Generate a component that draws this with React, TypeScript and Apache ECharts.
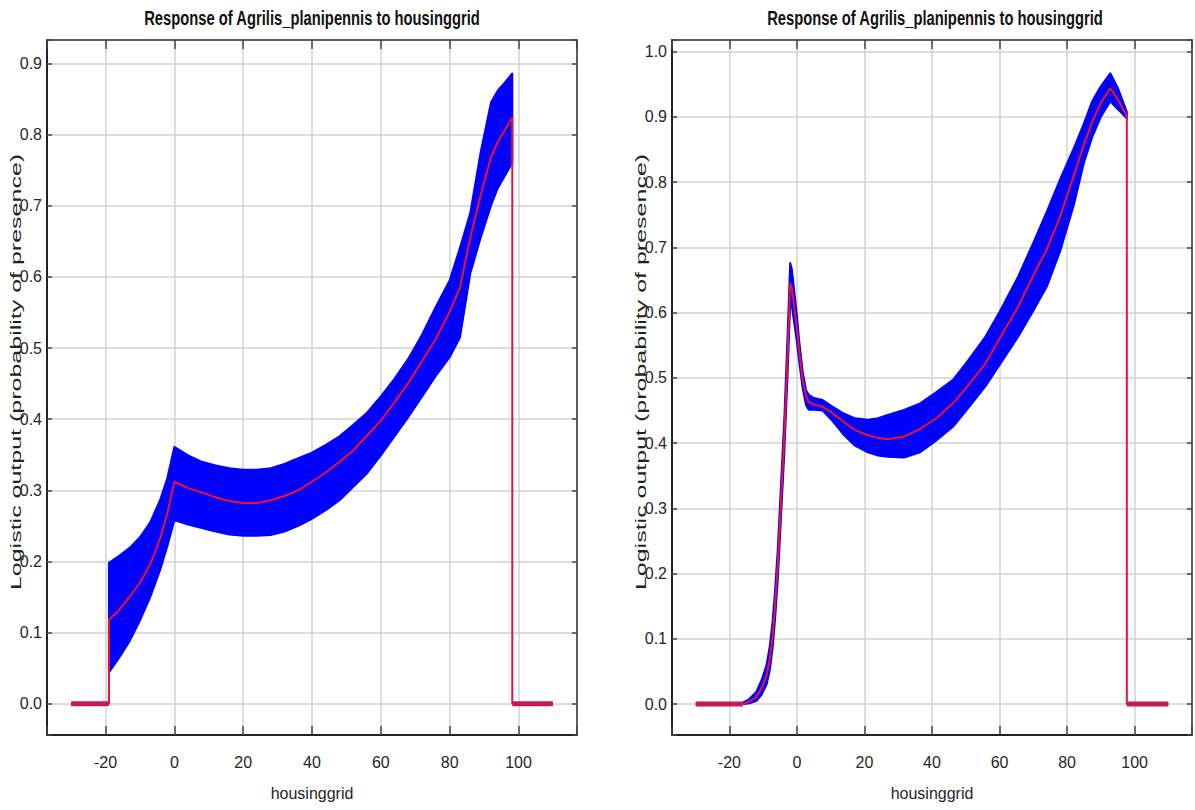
import React, { useEffect, useRef } from 'react';
import * as echarts from 'echarts';

const TITLE = 'Response of Agrilis_planipennis to housinggrid';
const X_NAME = 'housinggrid';
const Y_NAME = 'Logistic output (probability of presence)';

// ---- Left panel ----
const leftFlatStart = [-30, -19];
const leftFlatEnd = [98.2, 110];
const leftX = [-19, -16, -13, -10, -7, -4, -2, 0, 4, 8, 12, 16, 20, 24, 28, 32, 36, 40, 44, 48, 52, 56, 60, 64, 68, 72, 76, 80, 83, 86, 89, 92, 94, 96, 98.2];
const leftMean = [0.118, 0.132, 0.15, 0.17, 0.196, 0.234, 0.268, 0.312, 0.303, 0.297, 0.29, 0.285, 0.282, 0.282, 0.286, 0.292, 0.3, 0.312, 0.325, 0.34, 0.356, 0.377, 0.398, 0.424, 0.451, 0.482, 0.513, 0.551, 0.585, 0.655, 0.715, 0.768, 0.79, 0.806, 0.824];
const leftUpper = [0.198, 0.208, 0.219, 0.234, 0.255, 0.288, 0.318, 0.361, 0.349, 0.34, 0.335, 0.331, 0.329, 0.329, 0.331, 0.337, 0.345, 0.353, 0.364, 0.376, 0.392, 0.409, 0.432, 0.457, 0.485, 0.519, 0.558, 0.595, 0.641, 0.69, 0.775, 0.845, 0.862, 0.873, 0.886];
const leftLower = [0.044, 0.065, 0.088, 0.117, 0.15, 0.19, 0.222, 0.258, 0.252, 0.247, 0.242, 0.238, 0.236, 0.236, 0.237, 0.242, 0.25, 0.26, 0.272, 0.286, 0.305, 0.324, 0.349, 0.376, 0.403, 0.432, 0.461, 0.487, 0.515, 0.605, 0.655, 0.7, 0.725, 0.742, 0.76];

// ---- Right panel ----
const rightFlatStart = [-30, -16];
const rightFlatEnd = [97.7, 110];
const rightX = [-16, -14, -12, -10.5, -9, -8, -7.2, -6.5, -5.7, -4.7, -3.7, -2.7, -2, -1.5, 0, 0.6, 1.7, 2.7, 3.5, 5, 7.6, 10.5, 14, 17.2, 21, 24, 26.9, 31.7, 36.5, 41, 46.2, 50, 55.8, 60, 65.5, 70, 74, 78, 82, 85, 87.5, 90, 92.8, 95, 97.7];
const rightMean = [0, 0.004, 0.011, 0.024, 0.044, 0.07, 0.105, 0.148, 0.211, 0.313, 0.415, 0.543, 0.645, 0.638, 0.575, 0.545, 0.497, 0.472, 0.463, 0.459, 0.456, 0.446, 0.432, 0.42, 0.412, 0.408, 0.406, 0.41, 0.422, 0.437, 0.461, 0.484, 0.522, 0.56, 0.609, 0.657, 0.697, 0.748, 0.81, 0.858, 0.893, 0.922, 0.944, 0.927, 0.902];
const rightUpper = [0.002, 0.008, 0.019, 0.036, 0.06, 0.09, 0.127, 0.172, 0.235, 0.338, 0.442, 0.575, 0.676, 0.666, 0.595, 0.56, 0.51, 0.481, 0.474, 0.469, 0.466, 0.456, 0.445, 0.438, 0.436, 0.438, 0.443, 0.451, 0.461, 0.477, 0.497, 0.522, 0.563, 0.601, 0.655, 0.707, 0.755, 0.805, 0.852, 0.89, 0.925, 0.947, 0.967, 0.945, 0.908];
const rightLower = [0, 0.001, 0.005, 0.014, 0.03, 0.053, 0.086, 0.128, 0.188, 0.288, 0.39, 0.515, 0.615, 0.61, 0.555, 0.528, 0.484, 0.458, 0.451, 0.451, 0.45, 0.434, 0.412, 0.396, 0.386, 0.381, 0.379, 0.378, 0.386, 0.403, 0.425, 0.449, 0.487, 0.52, 0.563, 0.603, 0.64, 0.695, 0.765, 0.83, 0.87, 0.9, 0.924, 0.912, 0.898];

const X_MIN = -37;
const X_MAX = 117;
const LEFT_Y = [-0.044, 0.933];
const RIGHT_Y = [-0.0475, 1.018];

const FONT = '"Liberation Sans", Arial, sans-serif';
const TEXT_COLOR = '#262626';
const GRID_COLOR = '#d2d2d2';
const BLUE = '#0000ff';
const RED = '#ee1133';
const FLAT = '#c8185c';

function fmtX(v: number) {
  return Math.abs(v / 20 - Math.round(v / 20)) < 1e-6 ? String(Math.round(v)) : '';
}
function fmtY(v: number) {
  return Math.abs(v * 10 - Math.round(v * 10)) < 1e-6 ? (Math.round(v * 10) / 10).toFixed(1) : '';
}

function buildAxes(gridIndex: number, yr: number[]) {
  const xs = [
    {
      type: 'value', gridIndex, position: 'bottom', min: X_MIN, max: X_MAX, splitNumber: 7,
      name: X_NAME, nameLocation: 'middle', nameGap: 50,
      nameTextStyle: { fontFamily: FONT, fontSize: 16, color: TEXT_COLOR },
      axisLine: { show: true, onZero: false, lineStyle: { color: '#222', width: 2 } },
      axisTick: { show: true, inside: true, length: 9, lineStyle: { color: '#444', width: 1.5 } },
      axisLabel: { formatter: fmtX, margin: 19, fontFamily: FONT, fontSize: 16, color: TEXT_COLOR },
      splitLine: { show: true, lineStyle: { color: GRID_COLOR, width: 1.5 } },
    },
    {
      type: 'value', gridIndex, position: 'top', min: X_MIN, max: X_MAX, splitNumber: 7,
      axisLine: { show: true, onZero: false, lineStyle: { color: '#333', width: 1.5 } },
      axisTick: { show: true, inside: true, length: 9, lineStyle: { color: '#444', width: 1.5 } },
      axisLabel: { show: false },
      splitLine: { show: false },
    },
  ];
  const ys = [
    {
      type: 'value', gridIndex, position: 'left', min: yr[0], max: yr[1], splitNumber: 10,
      axisLine: { show: true, onZero: false, lineStyle: { color: '#222', width: 2 } },
      axisTick: { show: true, inside: true, length: 5, lineStyle: { color: '#444', width: 1.5 } },
      axisLabel: { formatter: fmtY, margin: 5, fontFamily: FONT, fontSize: 16, color: TEXT_COLOR },
      splitLine: { show: true, lineStyle: { color: GRID_COLOR, width: 1.5 } },
    },
    {
      type: 'value', gridIndex, position: 'right', min: yr[0], max: yr[1], splitNumber: 10,
      axisLine: { show: true, onZero: false, lineStyle: { color: '#333', width: 1.5 } },
      axisTick: { show: true, inside: true, length: 5, lineStyle: { color: '#444', width: 1.5 } },
      axisLabel: { show: false },
      splitLine: { show: false },
    },
  ];
  return { xs, ys };
}

function buildSeries(axisIdx: number, x: number[], mean: number[], upper: number[], lower: number[], flatStart: number[], flatEnd: number[]) {
  const meanData: number[][] = [];
  meanData.push([flatStart[0], 0], [flatStart[1], 0]);
  x.forEach((v, i) => meanData.push([v, mean[i]]));
  meanData.push([flatEnd[0], 0], [flatEnd[1], 0]);
  return [
    {
      type: 'custom', xAxisIndex: axisIdx, yAxisIndex: axisIdx, z: 2, clip: true,
      data: [[x[0], upper[0]]],
      renderItem: (_p: any, api: any) => {
        const pts: number[][] = [];
        for (let i = 0; i < x.length; i++) pts.push(api.coord([x[i], upper[i]]));
        for (let i = x.length - 1; i >= 0; i--) pts.push(api.coord([x[i], lower[i]]));
        return { type: 'polygon', shape: { points: pts }, style: { fill: BLUE, stroke: BLUE, lineWidth: 2, lineJoin: 'round' } };
      },
    },
    {
      type: 'line', xAxisIndex: axisIdx, yAxisIndex: axisIdx, z: 3, symbol: 'none',
      data: meanData,
      lineStyle: { color: RED, width: 2 },
    },
    {
      type: 'line', xAxisIndex: axisIdx, yAxisIndex: axisIdx, z: 5, symbol: 'none',
      data: [[flatStart[0], 0], [flatStart[1], 0]],
      lineStyle: { color: FLAT, width: 5 },
    },
    {
      type: 'line', xAxisIndex: axisIdx, yAxisIndex: axisIdx, z: 5, symbol: 'none',
      data: [[flatEnd[0], 0], [flatEnd[1], 0]],
      lineStyle: { color: FLAT, width: 5 },
    },
  ];
}

export default function App() {
  const ref = useRef<HTMLDivElement>(null);
  useEffect(() => {
    if (!ref.current) return;
    const chart = echarts.init(ref.current, null, { renderer: 'svg' });
    const a = buildAxes(0, LEFT_Y);
    const b = buildAxes(1, RIGHT_Y);
    const grids = [
      { left: 47, top: 40, width: 530, height: 695, show: false },
      { left: 672, top: 40, width: 528, height: 695, show: false },
    ];
    const titleFont = 'bold 20.5px "Liberation Sans", sans-serif';
    const ylabFont = '25px "Liberation Sans", sans-serif';
    const option: any = {
      animation: false,
      backgroundColor: '#ffffff',
      grid: grids,
      xAxis: [a.xs[0], a.xs[1], b.xs[0], b.xs[1]],
      yAxis: [a.ys[0], a.ys[1], b.ys[0], b.ys[1]],
      series: [
        ...buildSeries(0, leftX, leftMean, leftUpper, leftLower, leftFlatStart, leftFlatEnd),
        ...buildSeries(2, rightX, rightMean, rightUpper, rightLower, rightFlatStart, rightFlatEnd),
      ],
      graphic: [
        { type: 'text', x: 312, y: 18, scaleX: 0.72, style: { text: TITLE, font: titleFont, fill: '#111', textAlign: 'center', textVerticalAlign: 'middle' } },
        { type: 'text', x: 935, y: 18, scaleX: 0.72, style: { text: TITLE, font: titleFont, fill: '#111', textAlign: 'center', textVerticalAlign: 'middle' } },
        { type: 'text', x: 16, y: 372, rotation: Math.PI / 2, scaleY: 0.6, style: { text: Y_NAME, font: ylabFont, fill: '#222', textAlign: 'center', textVerticalAlign: 'middle' } },
        { type: 'text', x: 641, y: 372, rotation: Math.PI / 2, scaleY: 0.6, style: { text: Y_NAME, font: ylabFont, fill: '#222', textAlign: 'center', textVerticalAlign: 'middle' } },
      ],
    };
    chart.setOption(option);
    return () => chart.dispose();
  }, []);
  return <div ref={ref} style={{ position: 'absolute', left: 0, top: 0, width: 1195, height: 810 }} />;
}
